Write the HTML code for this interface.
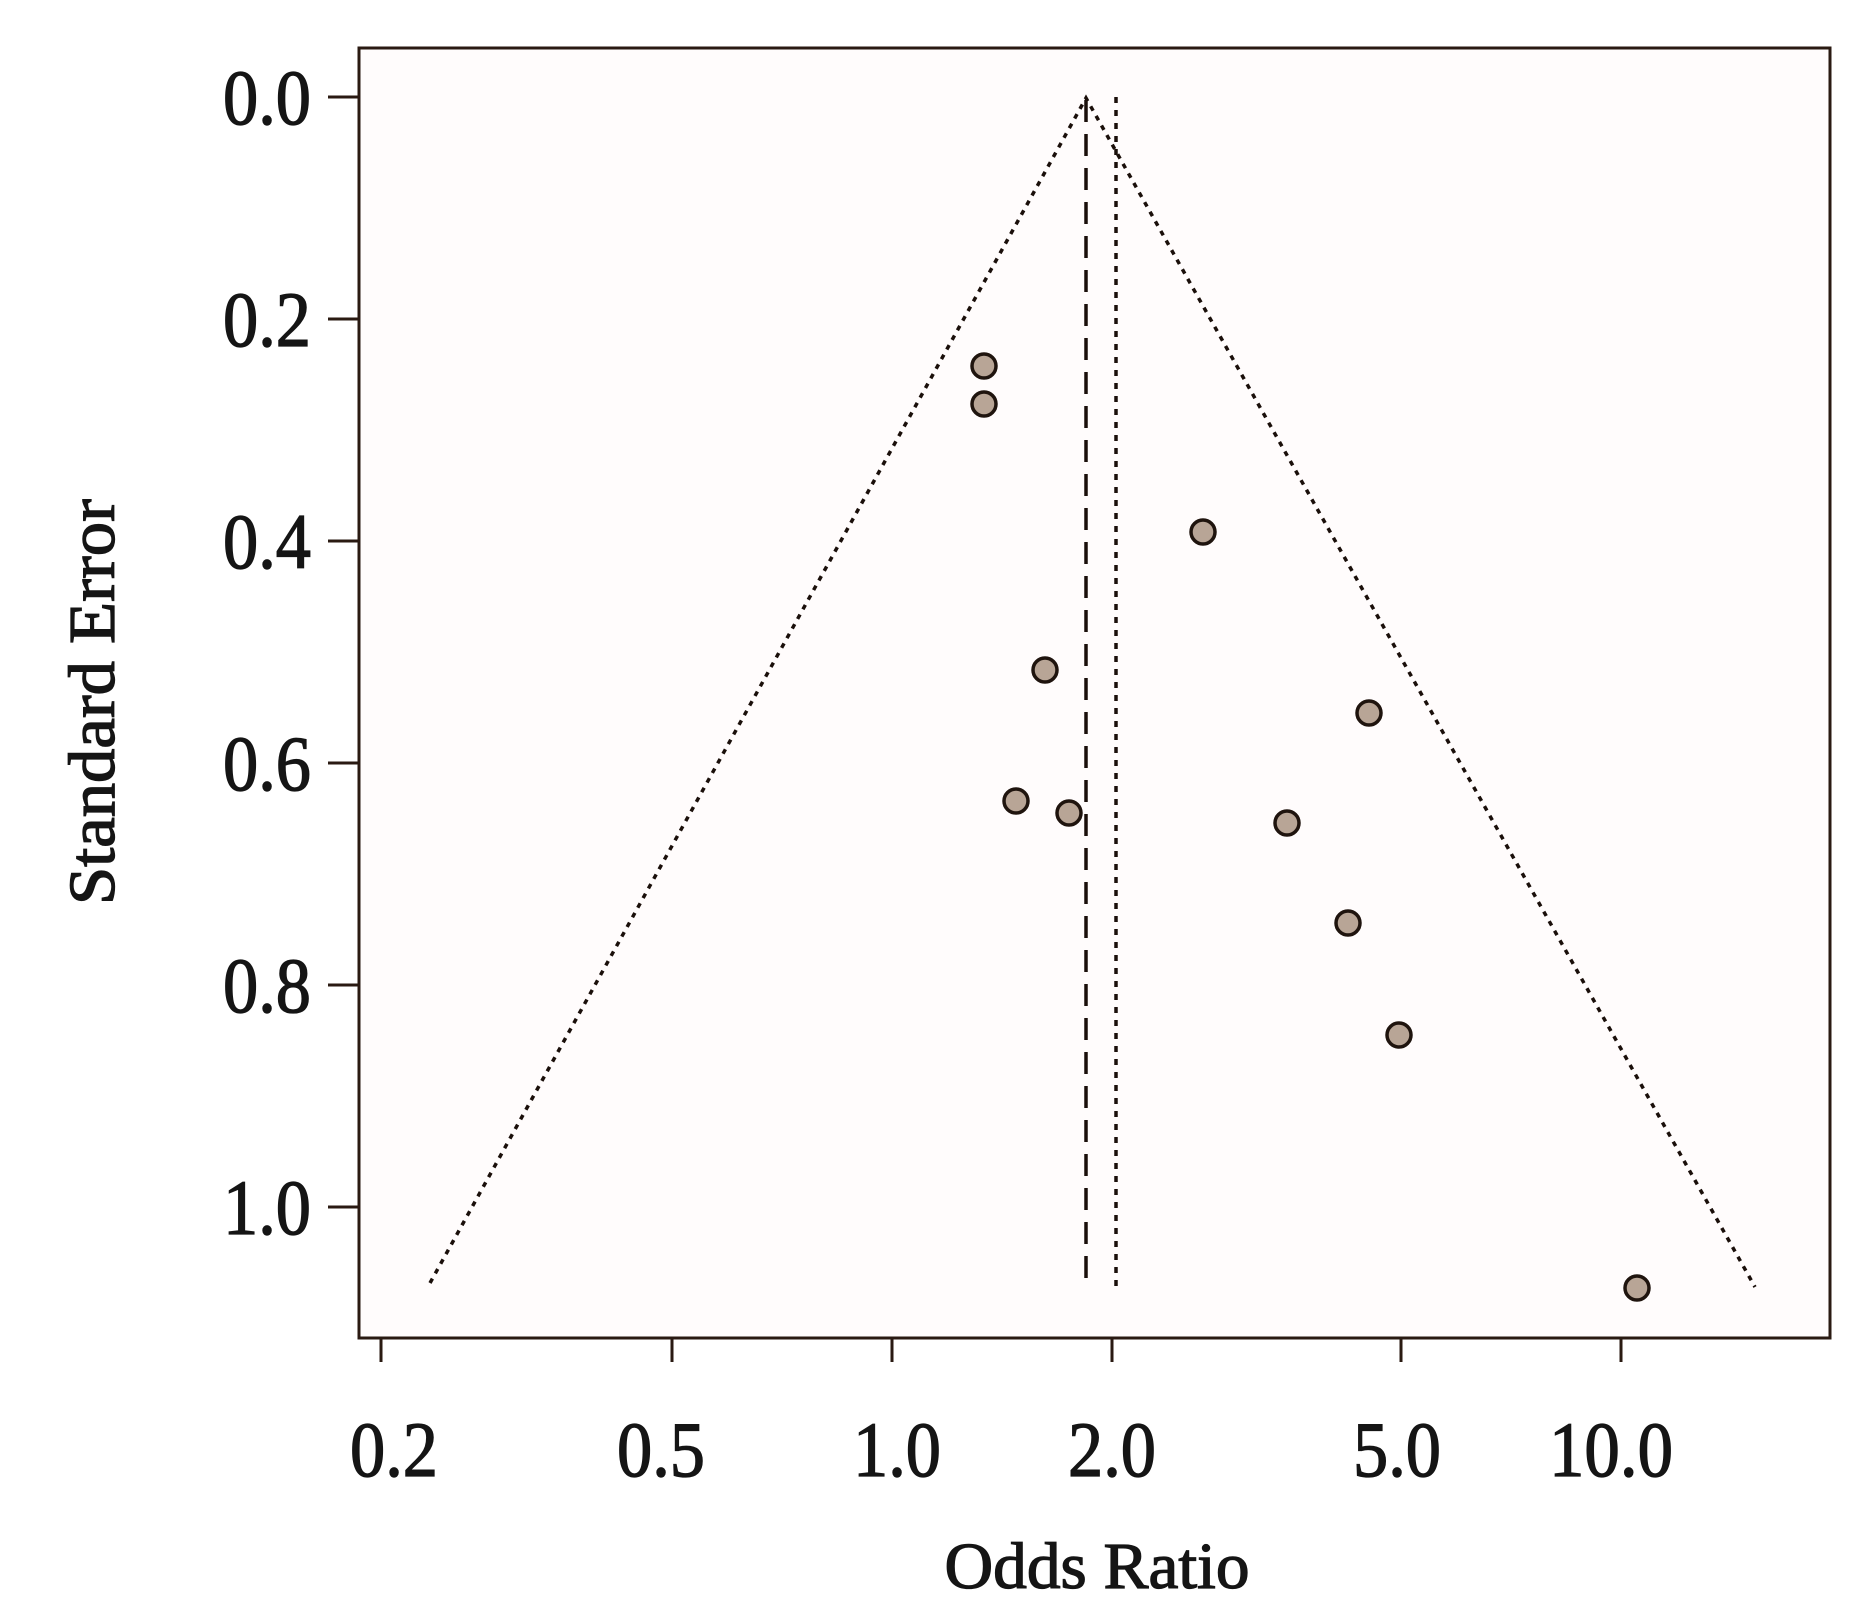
<!DOCTYPE html>
<html><head><meta charset="utf-8"><style>
html,body{margin:0;padding:0;background:#fff;}
svg{display:block;}
text{font-family:"Liberation Serif",serif;fill:#151515;stroke:#151515;stroke-width:1.3;}
</style></head><body>
<svg width="1856" height="1617" viewBox="0 0 1856 1617" xmlns="http://www.w3.org/2000/svg">
<rect x="0" y="0" width="1856" height="1617" fill="#fff"/>
<rect x="359" y="48" width="1471" height="1290" fill="#fffcfc" stroke="#2a1a12" stroke-width="3"/>
<g stroke="#2a1a12" stroke-width="3">
<line x1="328" y1="97" x2="359" y2="97"/>
<line x1="328" y1="319" x2="359" y2="319"/>
<line x1="328" y1="541" x2="359" y2="541"/>
<line x1="328" y1="763" x2="359" y2="763"/>
<line x1="328" y1="985" x2="359" y2="985"/>
<line x1="328" y1="1207" x2="359" y2="1207"/>
<line x1="381" y1="1338" x2="381" y2="1362"/>
<line x1="672" y1="1338" x2="672" y2="1362"/>
<line x1="892" y1="1338" x2="892" y2="1362"/>
<line x1="1112" y1="1338" x2="1112" y2="1362"/>
<line x1="1401" y1="1338" x2="1401" y2="1362"/>
<line x1="1621" y1="1338" x2="1621" y2="1362"/>
</g>
<g font-size="78" text-anchor="end">
<text x="311" y="124" textLength="88" lengthAdjust="spacingAndGlyphs">0.0</text>
<text x="311" y="346" textLength="88" lengthAdjust="spacingAndGlyphs">0.2</text>
<text x="311" y="568" textLength="88" lengthAdjust="spacingAndGlyphs">0.4</text>
<text x="311" y="790" textLength="88" lengthAdjust="spacingAndGlyphs">0.6</text>
<text x="311" y="1012" textLength="88" lengthAdjust="spacingAndGlyphs">0.8</text>
<text x="311" y="1234" textLength="88" lengthAdjust="spacingAndGlyphs">1.0</text>
</g>
<g font-size="78" text-anchor="middle">
<text x="394" y="1476" textLength="88" lengthAdjust="spacingAndGlyphs">0.2</text>
<text x="661" y="1476" textLength="88" lengthAdjust="spacingAndGlyphs">0.5</text>
<text x="897" y="1476" textLength="88" lengthAdjust="spacingAndGlyphs">1.0</text>
<text x="1112" y="1476" textLength="88" lengthAdjust="spacingAndGlyphs">2.0</text>
<text x="1397" y="1476" textLength="88" lengthAdjust="spacingAndGlyphs">5.0</text>
<text x="1611" y="1476" textLength="124" lengthAdjust="spacingAndGlyphs">10.0</text>
</g>
<text x="1097" y="1588" font-size="66" text-anchor="middle" textLength="305" lengthAdjust="spacingAndGlyphs">Odds Ratio</text>
<text transform="translate(114,702) rotate(-90)" font-size="66" text-anchor="middle" textLength="406" lengthAdjust="spacingAndGlyphs">Standard Error</text>
<g fill="none" stroke="#1a0f0a" stroke-width="3.5">
<polyline points="430,1283 1086,98 1755,1287" stroke-dasharray="5,6"/>
<line x1="1086" y1="100" x2="1086" y2="1285" stroke-dasharray="22,12"/>
<line x1="1116" y1="97" x2="1116" y2="1287" stroke-dasharray="6,7"/>
</g>
<g fill="#b8a596" stroke="#1f140e" stroke-width="3.5">
<circle cx="984" cy="366" r="12"/>
<circle cx="984" cy="404" r="12"/>
<circle cx="1203" cy="532" r="12"/>
<circle cx="1045" cy="670" r="12"/>
<circle cx="1369" cy="713" r="12"/>
<circle cx="1016" cy="801" r="12"/>
<circle cx="1069" cy="813" r="12"/>
<circle cx="1287" cy="823" r="12"/>
<circle cx="1348" cy="923" r="12"/>
<circle cx="1399" cy="1035" r="12"/>
<circle cx="1637" cy="1288" r="12"/>
</g>
</svg>
</body></html>
